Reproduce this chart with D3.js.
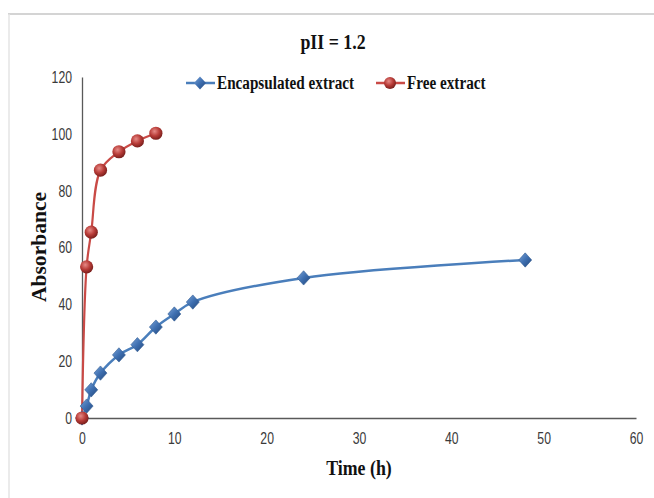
<!DOCTYPE html>
<html>
<head>
<meta charset="utf-8">
<script src="https://cdn.jsdelivr.net/npm/d3@7"></script>
<style>
  body { margin: 0; background: #fff; }
  .ttl { font-family: "Liberation Serif", "Times New Roman", serif; font-weight: bold; fill: #111; }
</style>
</head>
<body>
<svg id="chart" width="654" height="498"></svg>
<script>
const timeEnc = [0, 0.5, 1, 2, 4, 6, 8, 10, 12, 24, 48];
const absEnc = [0, 4.2, 9.9, 15.8, 22.2, 25.8, 32, 36.6, 40.8, 49.3, 55.6];
const timeFree = [0, 0.5, 1, 2, 4, 6, 8];
const absFree = [0, 53.2, 65.4, 87.2, 93.7, 97.5, 100.2];
const xTicks = [0, 10, 20, 30, 40, 50, 60];
const yTicks = [0, 20, 40, 60, 80, 100, 120];
const seriesNames = ["Encapsulated extract", "Free extract"];

const svg = d3.select("#chart");
const margin = {left: 82, right: 18, top: 77, bottom: 80};
const W = 654, H = 498;
const TICK_SQUEEZE = 0.72; // the picture's fonts look horizontally squashed

// frame like the pasted chart box
svg.append("line").attr("x1", 8).attr("x2", W).attr("y1", 14).attr("y2", 14)
    .attr("stroke", "#d4d4d4").attr("stroke-width", 2);
svg.append("line").attr("x1", 9).attr("x2", 9).attr("y1", 14).attr("y2", H)
    .attr("stroke", "#e4e4e4").attr("stroke-width", 1.5);

const x = d3.scaleLinear().domain([0, 60]).range([margin.left, W - margin.right]);
const y = d3.scaleLinear().domain([0, 120]).range([H - margin.bottom, margin.top]);

const defs = svg.append("defs");
const redGrad = defs.append("radialGradient").attr("id", "redBall")
    .attr("cx", "40%").attr("cy", "35%").attr("r", "65%");
redGrad.append("stop").attr("offset", "0%").attr("stop-color", "#e68a86");
redGrad.append("stop").attr("offset", "55%").attr("stop-color", "#b83c38");
redGrad.append("stop").attr("offset", "100%").attr("stop-color", "#7a1f1c");
const blueGrad = defs.append("linearGradient").attr("id", "blueDia")
    .attr("x1", "0%").attr("y1", "0%").attr("x2", "100%").attr("y2", "100%");
blueGrad.append("stop").attr("offset", "0%").attr("stop-color", "#7aa3d8");
blueGrad.append("stop").attr("offset", "50%").attr("stop-color", "#3e6fb0");
blueGrad.append("stop").attr("offset", "100%").attr("stop-color", "#23467a");

// axes
const xAxis = svg.append("g").attr("transform", `translate(0,${y(0)})`)
    .call(d3.axisBottom(x).tickValues(xTicks).tickSize(0).tickPadding(14));
const yAxis = svg.append("g").attr("transform", `translate(${x(0)},0)`)
    .call(d3.axisLeft(y).tickValues(yTicks).tickSize(0).tickPadding(10));
svg.selectAll(".domain").attr("stroke", "#595959").attr("stroke-width", 1.3);
svg.selectAll(".tick text")
    .attr("font-family", "'Liberation Sans', Arial, sans-serif")
    .attr("font-size", 17).attr("fill", "#3a3a3a");
xAxis.selectAll(".tick text").attr("transform", `scale(${TICK_SQUEEZE},1)`);
yAxis.selectAll(".tick text")
    .attr("x", -10 / TICK_SQUEEZE).attr("transform", `scale(${TICK_SQUEEZE},1)`);

// squashed bold serif text
function squashText(cx, cy, size, str, anchor, squeeze, rot) {
  const g = svg.append("g").attr("transform", `translate(${cx},${cy})` + (rot ? ` rotate(${rot})` : ""));
  return g.append("text").attr("class", "ttl").attr("transform", `scale(${squeeze},1)`)
      .attr("text-anchor", anchor).attr("font-size", size).text(str);
}

squashText(333, 49, 21, "pII = 1.2", "middle", 0.85);
squashText(359, 475, 21, "Time (h)", "middle", 0.85);
squashText(46, 247, 22, "Absorbance", "middle", 0.98, -90);

const line = d3.line().curve(d3.curveCatmullRom.alpha(0.5));

const encPts = timeEnc.map((t, i) => [x(t), y(absEnc[i])]);
const freePts = timeFree.map((t, i) => [x(t), y(absFree[i])]);

svg.append("path").attr("d", line(encPts)).attr("fill", "none")
    .attr("stroke", "#4a7ebb").attr("stroke-width", 2.5);
svg.append("path").attr("d", line(freePts)).attr("fill", "none")
    .attr("stroke", "#c94a46").attr("stroke-width", 2.2);

const diamond = (s) => `M0,${-s * 1.1}L${s},0L0,${s * 1.1}L${-s},0Z`;

svg.selectAll(".enc").data(encPts).join("path").attr("class", "enc")
    .attr("transform", d => `translate(${d[0]},${d[1]})`)
    .attr("d", diamond(6.5)).attr("fill", "url(#blueDia)")
    .attr("stroke", "#2f5a92").attr("stroke-width", 0.6);
svg.selectAll(".free").data(freePts).join("circle").attr("class", "free")
    .attr("cx", d => d[0]).attr("cy", d => d[1]).attr("r", 6.6)
    .attr("fill", "url(#redBall)");

// legend
const lg = svg.append("g").attr("class", "legend");
const items = [
  {name: seriesNames[0], x: 186, color: "#4a7ebb", shape: "dia"},
  {name: seriesNames[1], x: 376, color: "#c94a46", shape: "ball"}
];
items.forEach(it => {
  lg.append("line").attr("x1", it.x).attr("x2", it.x + 29).attr("y1", 83).attr("y2", 83)
      .attr("stroke", it.color).attr("stroke-width", 2.5);
  if (it.shape === "dia") {
    lg.append("path").attr("transform", `translate(${it.x + 14},83)`)
        .attr("d", diamond(6)).attr("fill", "url(#blueDia)");
  } else {
    lg.append("circle").attr("cx", it.x + 14).attr("cy", 83).attr("r", 6)
        .attr("fill", "url(#redBall)");
  }
  squashText(it.x + 31, 89, 19, it.name, "start", 0.8);
});
</script>
</body>
</html>
